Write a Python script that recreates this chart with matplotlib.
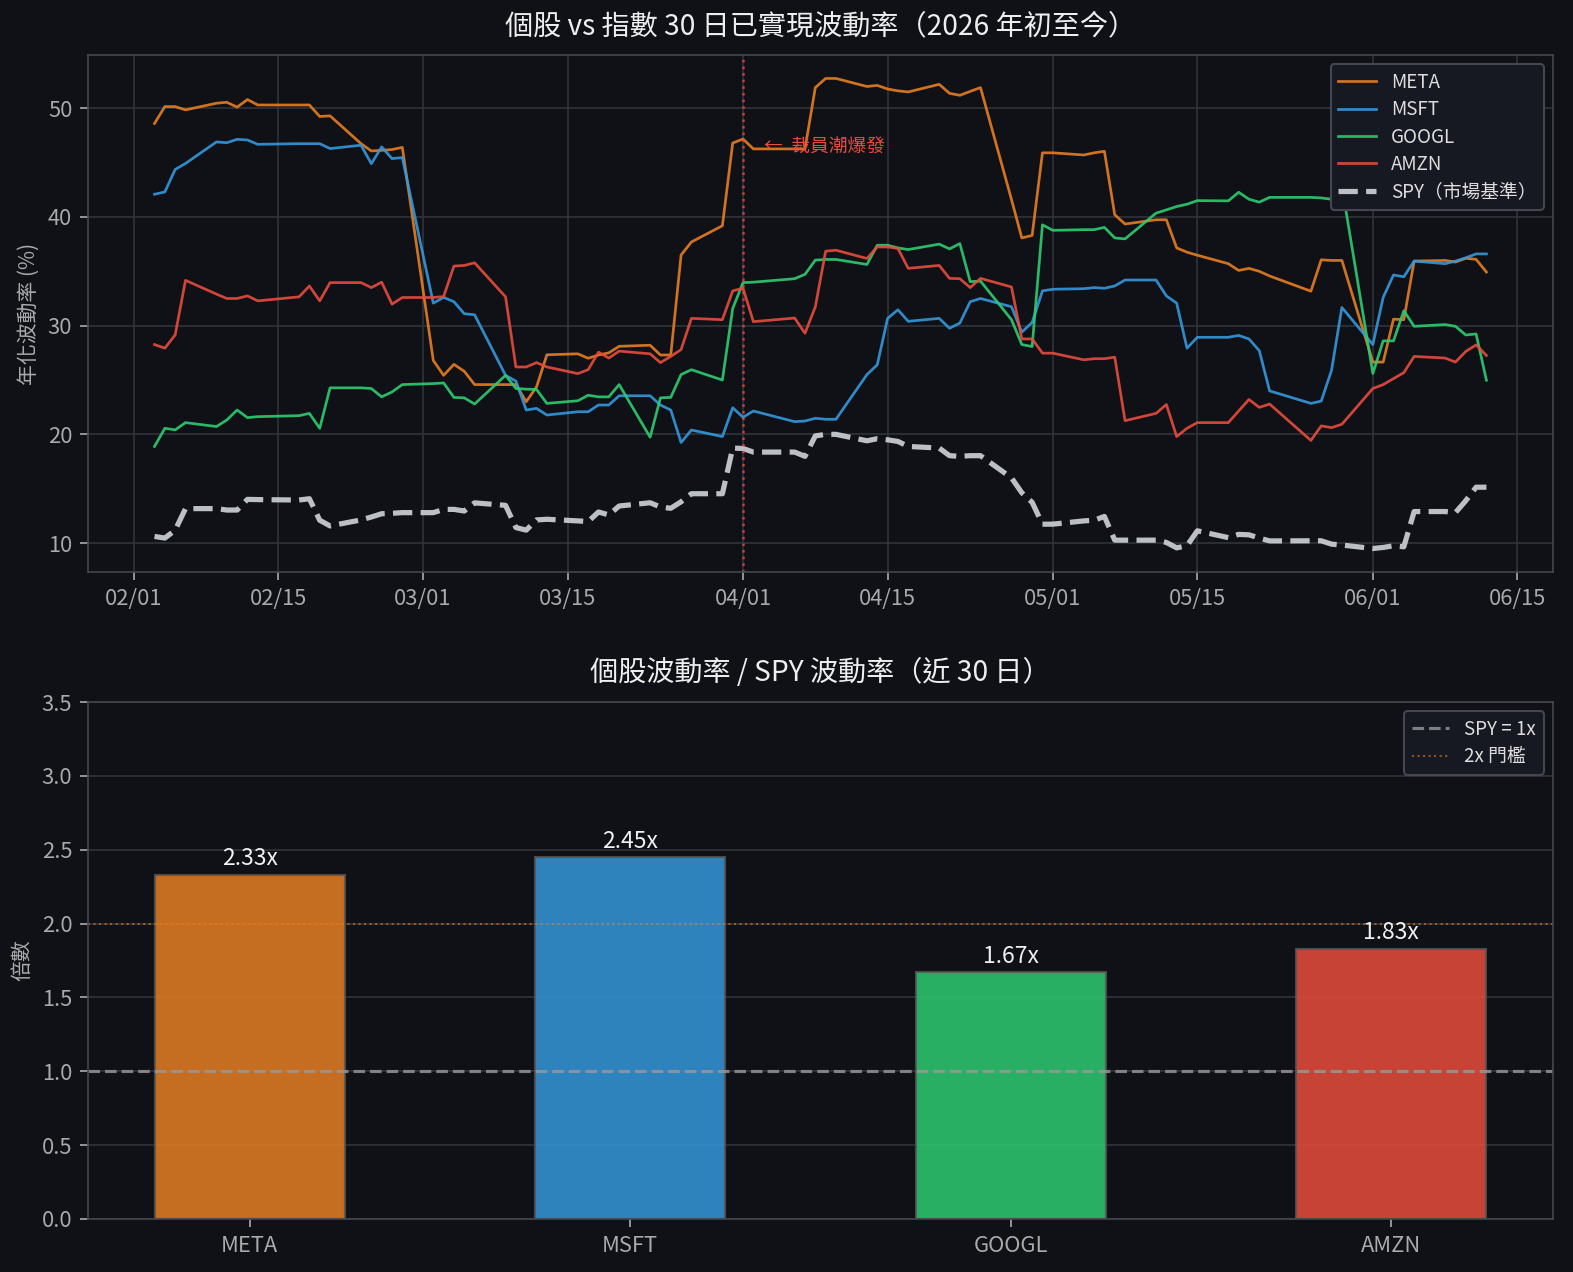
import numpy as np
import pandas as pd
import matplotlib
matplotlib.use("Agg")
import matplotlib.pyplot as plt
import matplotlib.dates as mdates

# ---- data ----
holidays = ["2026-02-16", "2026-04-03", "2026-05-25"]
dates = pd.bdate_range("2026-02-03", "2026-06-12", freq="C", holidays=holidays)

meta = [48.6, 50.15, 50.15, 49.85, 50.46, 50.55, 50.1, 50.8, 50.3, 50.3, 50.3, 49.24, 49.3, 46.74, 46.07, 46.13, 46.2, 46.4,
        26.8, 25.43, 26.44, 25.8, 24.58, 24.58, 24.58, 23.0, 24.37, 27.32, 27.41, 27.0, 27.3, 27.5, 28.1, 28.2, 27.3, 27.3, 36.5, 37.7, 39.19, 46.8,
        47.17, 46.26, 46.26, 46.26, 51.9, 52.74, 52.74, 52.0, 52.1, 51.77, 51.6, 51.5, 52.2, 51.37, 51.19, 51.55, 51.9, 41.6, 38.07, 38.3, 45.9,
        45.9, 45.7, 45.9, 46.04, 40.2, 39.35, 39.74, 39.74, 37.15, 36.76, 36.48, 35.7, 35.08, 35.27, 35.0, 34.57, 33.17, 36.06, 36.0, 36.0,
        26.65, 26.65, 30.6, 30.55, 35.94, 36.0, 35.85, 36.2, 36.1, 34.93]
msft = [42.09, 42.3, 44.37, 44.92, 46.9, 46.83, 47.14, 47.08, 46.68, 46.74, 46.74, 46.74, 46.29, 46.6, 44.9, 46.44, 45.37, 45.46,
        32.07, 32.6, 32.2, 31.1, 31.0, 25.43, 24.9, 22.24, 22.39, 21.78, 22.08, 22.08, 22.7, 22.7, 23.55, 23.55, 22.7, 22.24, 19.25, 20.4, 19.8, 22.45,
        21.57, 22.15, 21.17, 21.23, 21.48, 21.39, 21.39, 25.5, 26.4, 30.67, 31.46, 30.4, 30.67, 29.76, 30.24, 32.2, 32.5, 31.74, 29.4, 30.3, 33.2,
        33.35, 33.4, 33.5, 33.44, 33.65, 34.2, 34.2, 32.74, 32.07, 27.93, 28.93, 28.93, 29.1, 28.78, 27.7, 24.0, 22.85, 23.06, 25.9, 31.67,
        28.26, 32.6, 34.66, 34.5, 35.94, 35.7, 35.94, 36.24, 36.6, 36.6]
googl = [18.89, 20.56, 20.41, 21.08, 20.72, 21.32, 22.24, 21.54, 21.63, 21.72, 21.93, 20.56, 24.28, 24.28, 24.22, 23.45, 23.9, 24.58,
         24.67, 24.73, 23.4, 23.36, 22.79, 25.43, 24.22, 24.16, 24.13, 22.85, 23.09, 23.6, 23.45, 23.45, 24.58, 19.74, 23.36, 23.4, 25.5, 25.95, 25.0, 31.58,
         33.96, 34.0, 34.32, 34.72, 36.03, 36.09, 36.09, 35.63, 37.4, 37.4, 37.15, 37.0, 37.5, 37.06, 37.55, 34.05, 34.1, 30.55, 28.26, 28.08, 39.28,
         38.77, 38.83, 38.83, 39.04, 38.07, 37.98, 40.35, 40.65, 40.96, 41.17, 41.5, 41.48, 42.27, 41.63, 41.36, 41.8, 41.8, 41.75, 41.63, 42.85,
         25.6, 28.6, 28.6, 31.37, 29.94, 30.1, 29.94, 29.14, 29.24, 24.98]
amzn = [28.26, 27.93, 29.15, 34.17, 32.9, 32.5, 32.5, 32.74, 32.28, 32.65, 33.65, 32.28, 33.96, 33.96, 33.5, 34.0, 31.98, 32.59,
        32.59, 32.68, 35.48, 35.54, 35.78, 32.65, 26.2, 26.2, 26.6, 26.2, 25.59, 25.95, 27.56, 27.02, 27.66, 27.41, 26.6, 27.17, 27.8, 30.67, 30.55, 33.2,
        33.44, 30.37, 30.7, 29.3, 31.73, 36.85, 36.94, 36.18, 37.24, 37.24, 37.1, 35.27, 35.54, 34.35, 34.32, 33.5, 34.35, 33.56, 28.78, 28.78, 27.47,
        27.47, 26.86, 26.96, 26.96, 27.1, 21.26, 21.93, 22.75, 19.8, 20.56, 21.08, 21.08, 22.15, 23.21, 22.48, 22.79, 19.44, 20.78, 20.62, 20.93,
        24.22, 24.58, 25.13, 25.68, 27.17, 27.02, 26.65, 27.63, 28.23, 27.26]
spy = [10.61, 10.46, 11.19, 13.17, 13.17, 13.04, 13.04, 14.02, 14.0, 13.96, 14.08, 12.1, 11.58, 12.13, 12.4, 12.7, 12.74, 12.8,
       12.8, 13.1, 13.1, 12.95, 13.7, 13.47, 11.43, 11.19, 12.13, 12.19, 12.04, 11.98, 12.86, 12.59, 13.41, 13.71, 13.32, 13.2, 13.8, 14.54, 14.54, 18.74,
       18.7, 18.37, 18.37, 17.98, 19.86, 20.0, 20.0, 19.41, 19.6, 19.5, 19.35, 18.89, 18.74, 18.04, 17.98, 18.04, 18.04, 16.0, 14.63, 13.75, 11.74,
       11.74, 12.04, 12.1, 12.45, 10.27, 10.27, 10.27, 10.06, 9.56, 9.76, 11.13, 10.5, 10.8, 10.76, 10.46, 10.2, 10.21, 10.21, 9.9, 9.82,
       9.5, 9.6, 9.75, 9.66, 12.9, 12.9, 12.8, 13.9, 15.14, 15.14]

tickers = ["META", "MSFT", "GOOGL", "AMZN"]
ratios = [2.33, 2.45, 1.67, 1.83]
event_date = "2026-04-01"
event_text = "←  裁員潮爆發"

# ---- style ----
BG = "#0f1117"
COLORS = {"META": "#e67e22", "MSFT": "#3498db", "GOOGL": "#2ecc71", "AMZN": "#e74c3c"}
plt.rcParams["font.family"] = ["Noto Sans CJK TC", "DejaVu Sans"]
plt.rcParams["axes.unicode_minus"] = False

fig, (ax1, ax2) = plt.subplots(2, 1, figsize=(1573 / 150, 1272 / 150), dpi=150)
fig.patch.set_facecolor(BG)
ax1.set_position([0.0559, 0.5503, 0.9314, 0.4065])
ax2.set_position([0.0559, 0.0417, 0.9314, 0.4064])

for ax in (ax1, ax2):
    ax.set_facecolor(BG)
    for sp in ax.spines.values():
        sp.set_color("#44474f")
    ax.tick_params(colors="#aaaaaa", labelsize=10.5, length=4)

# ---- top: rolling volatility lines ----
series = {"META": meta, "MSFT": msft, "GOOGL": googl, "AMZN": amzn}
for name, vals in series.items():
    ax1.plot(dates, vals, color=COLORS[name], lw=1.3, alpha=0.9, label=name)
ax1.plot(dates, spy, color="#d0d3d8", lw=2.5, ls="--", alpha=0.9, label="SPY（市場基準）")

ev = pd.Timestamp(event_date)
ax1.axvline(ev, color="#e74c3c", ls=":", lw=1.2, alpha=0.8)
ax1.text(pd.Timestamp("2026-04-03"), 46.5, event_text, color="#e74c3c", fontsize=9, va="center")

ax1.xaxis.set_major_locator(mdates.DayLocator(bymonthday=[1, 15]))
ax1.xaxis.set_major_formatter(mdates.DateFormatter("%m/%d"))
ax1.grid(True, color="#30333b", lw=0.8)
ax1.set_axisbelow(True)
ax1.set_ylabel("年化波動率 (%)", color="#aaaaaa", fontsize=10)
ax1.set_title("個股 vs 指數 30 日已實現波動率（2026 年初至今）", color="#eeeeee", fontsize=13.5, pad=10)
leg1 = ax1.legend(loc="upper right", fontsize=9, facecolor="#161922", edgecolor="#44474f",
                  framealpha=1, labelspacing=0.34)
for t in leg1.get_texts():
    t.set_color("#dddddd")

# ---- bottom: ratio bars ----
x = np.arange(len(tickers))
bars = ax2.bar(x, ratios, width=0.5, color=[COLORS[t] for t in tickers], alpha=0.85,
               edgecolor="#555555", linewidth=1)
for xi, v in zip(x, ratios):
    ax2.text(xi, v + 0.03, f"{v:.2f}x", ha="center", va="bottom", color="#f0f0f0", fontsize=11)

ax2.axhline(1.0, color="#999999", ls="--", lw=1.5, alpha=0.8, label="SPY = 1x")
ax2.axhline(2.0, color="#e67e22", ls=":", lw=1.0, alpha=0.6, label="2x 門檻")
ax2.set_xticks(x)
ax2.set_xticklabels(tickers)
ax2.set_ylim(0, 3.5)
ax2.set_yticks(np.arange(0, 3.51, 0.5))
ax2.grid(True, axis="y", color="#30333b", lw=0.8)
ax2.set_axisbelow(True)
ax2.set_ylabel("倍數", color="#aaaaaa", fontsize=10)
ax2.set_title("個股波動率 / SPY 波動率（近 30 日）", color="#eeeeee", fontsize=13.5, pad=10)
leg2 = ax2.legend(loc="upper right", fontsize=9, facecolor="#161922", edgecolor="#44474f",
                  framealpha=1, labelspacing=0.34)
for t in leg2.get_texts():
    t.set_color("#dddddd")

fig.savefig("out.png", dpi=150, facecolor=BG)
